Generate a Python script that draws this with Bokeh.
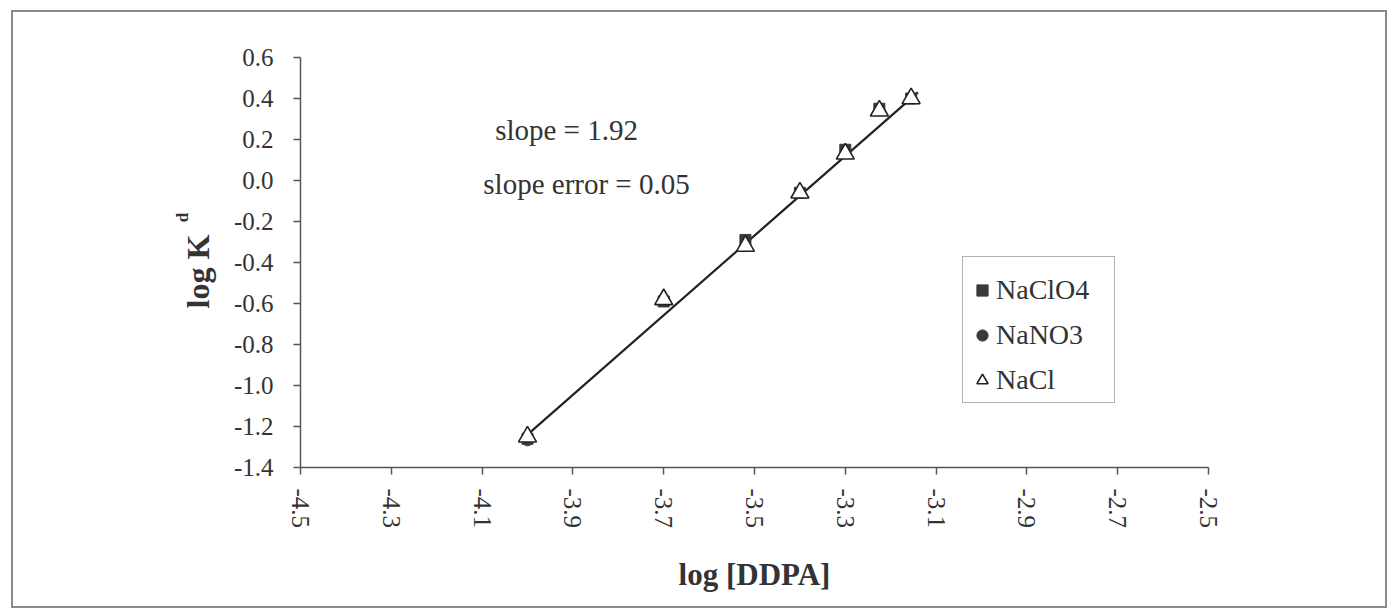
import math
from bokeh.plotting import figure
from bokeh.models import FixedTicker, PrintfTickFormatter, Label, Legend, LegendItem, Title
from bokeh.embed import file_html
from bokeh.resources import INLINE

# ---- data ----
log_ddpa = [-4.0, -3.70, -3.52, -3.40, -3.30, -3.225, -3.155]
kd_naclo4 = [-1.26, -0.59, -0.29, -0.06, 0.15, 0.35, 0.40]
kd_nano3 = [-1.27, -0.58, -0.30, -0.06, 0.14, 0.34, 0.40]
kd_nacl = [-1.25, -0.58, -0.32, -0.06, 0.13, 0.34, 0.40]
fit_x = [-4.0, -3.14]
fit_y = [-1.24, 0.43]
x_ticks = [-4.5, -4.3, -4.1, -3.9, -3.7, -3.5, -3.3, -3.1, -2.9, -2.7, -2.5]
y_ticks = [-1.4, -1.2, -1.0, -0.8, -0.6, -0.4, -0.2, 0.0, 0.2, 0.4, 0.6]
series_names = ["NaClO4", "NaNO3", "NaCl"]
slope_text = "slope = 1.92"
slope_err_text = "slope error = 0.05"

FONT = "Liberation Serif"
TXT = "#333333"
AX = "#555555"

p = figure(width=1376, height=598, x_range=(-4.5, -2.5), y_range=(-1.4, 0.6),
           output_backend="svg", toolbar_location=None,
           min_border_left=287, min_border_right=181, min_border_top=45, min_border_bottom=143)
p.styles = {"border": "2px solid #8a8a8a", "margin-left": "11px", "margin-top": "10px"}
p.outline_line_color = None
p.xgrid.visible = False
p.ygrid.visible = False
p.background_fill_color = "white"
p.border_fill_color = "white"

for ax in (p.xaxis[0], p.yaxis[0]):
    ax.axis_line_color = AX
    ax.axis_line_width = 1.5
    ax.major_tick_line_color = AX
    ax.major_tick_line_width = 1.5
    ax.major_tick_out = 7
    ax.major_tick_in = 0
    ax.minor_tick_line_color = None
    ax.major_label_text_font = FONT
    ax.major_label_text_font_size = "25px"
    ax.major_label_text_color = TXT
    ax.axis_label_text_font = FONT
    ax.axis_label_text_font_size = "31px"
    ax.axis_label_text_font_style = "bold"
    ax.axis_label_text_color = TXT

p.xaxis.ticker = FixedTicker(ticks=x_ticks)
p.yaxis.ticker = FixedTicker(ticks=y_ticks)
p.xaxis.formatter = PrintfTickFormatter(format="%.1f")
p.yaxis.formatter = PrintfTickFormatter(format="%.1f")
p.xaxis.major_label_orientation = -math.pi / 2
p.xaxis.major_label_standoff = 14
p.yaxis.major_label_standoff = 20
p.xaxis.axis_label = "log [DDPA]"
p.xaxis.axis_label_standoff = 26

# y axis title "log K" as a side title; its subscript "d" as a label in the side panel
t_logk = Title(text="log K", text_font=FONT, text_font_size="32px", text_font_style="bold",
               text_color=TXT, align="left", offset=159, standoff=0)
p.add_layout(Title(text=" ", text_font_size="1px", standoff=12), "left")
p.add_layout(t_logk, "left")
p.add_layout(Label(x=24, y=250, x_units="screen", y_units="screen", text="d",
                   angle=math.pi / 2, text_font=FONT, text_font_size="17px",
                   text_font_style="bold", text_color=TXT,
                   text_align="center", text_baseline="middle"), "left")

# fit line
p.line(fit_x, fit_y, line_color="#222222", line_width=2.2)

r_sq = p.scatter(log_ddpa, kd_naclo4, marker="square", size=11,
                 fill_color="#3a3a3a", line_color="#3a3a3a")
r_ci = p.scatter(log_ddpa, kd_nano3, marker="circle", size=10,
                 fill_color="#3a3a3a", line_color="#3a3a3a")
r_tr = p.scatter(log_ddpa, kd_nacl, marker="triangle", size=18,
                 fill_color="white", line_color="#222222", line_width=1.6)

legend = Legend(items=[LegendItem(label=series_names[0], renderers=[r_sq]),
                       LegendItem(label=series_names[1], renderers=[r_ci]),
                       LegendItem(label=series_names[2], renderers=[r_tr])],
                location=(662, 64))
legend.title = " "
legend.title_text_font_size = "1px"
legend.title_standoff = 10
legend.label_text_font = FONT
legend.label_text_font_size = "28px"
legend.label_text_color = TXT
legend.glyph_width = 28
legend.glyph_height = 34
legend.label_height = 34
legend.label_width = 113
legend.label_standoff = 0
legend.spacing = 11
legend.padding = 5
legend.margin = 0
legend.border_line_color = "#666666"
legend.border_line_width = 1.5
legend.background_fill_alpha = 1
p.add_layout(legend)

p.add_layout(Label(x=-3.914, y=0.244, text=slope_text, text_font=FONT,
                   text_font_size="29px", text_color=TXT,
                   text_align="center", text_baseline="middle"))
p.add_layout(Label(x=-3.870, y=-0.015, text=slope_err_text, text_font=FONT,
                   text_font_size="29px", text_color=TXT,
                   text_align="center", text_baseline="middle"))

open("out.html", "w").write(file_html(p, INLINE))
